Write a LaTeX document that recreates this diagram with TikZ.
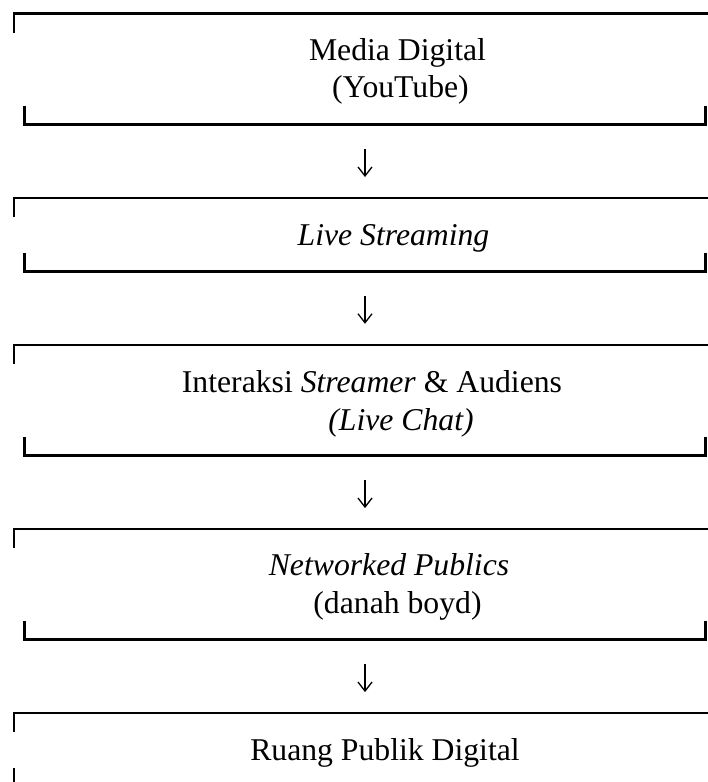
\documentclass[tikz,border=0pt]{standalone}
\usepackage{fontspec}
\setmainfont{Liberation Serif}
\usetikzlibrary{arrows.meta}
\begin{document}
\begin{tikzpicture}[x=1pt,y=-1pt,
  boxarea/.style={inner sep=0pt, minimum width=691pt, draw=none},
  rule/.style={line width=2.6pt, line cap=butt, line join=miter},
  txt/.style={anchor=base, inner sep=0pt, font=\fontsize{31.7}{37}\selectfont},
  flow/.style={line width=1.3pt, shorten <=24pt, shorten >=21pt,
    -{Straight Barb[length=9pt,width=14pt,line width=1.3pt]}}]
\useasboundingbox (0,0) rectangle (708,782);

% box areas
\node[boxarea, minimum height=110.6pt] (b1) at (359.5,69) {};
\node[boxarea, minimum height=73.1pt] (b2) at (359.5,234.75) {};
\node[boxarea, minimum height=110.3pt] (b3) at (359.5,400.15) {};
\node[boxarea, minimum height=110.2pt] (b4) at (359.5,584.4) {};
\node[boxarea, minimum height=73.7pt] (b5) at (359.5,750.15) {};

% brackets
\foreach \b in {b1,b2,b3,b4}{
  \draw[rule] ([yshift=-19pt]\b.north west) -- (\b.north west) -- ([xshift=3pt]\b.north east);
  \draw[rule] ([xshift=10.7pt,yshift=19pt]\b.south west) -- ([xshift=10.7pt]\b.south west)
     -- (\b.south east) -- ([yshift=19pt]\b.south east);
}
\draw[rule] ([yshift=-19pt]b5.north west) -- (b5.north west) -- ([xshift=3pt]b5.north east);
\draw[rule] ([yshift=-54.7pt]b5.north west) -- ([yshift=-69pt]b5.north west);

% texts
\node[txt] (t1a) at (397.5,60) {Media Digital};
\node[txt] (t1b) at (400.5,97) {(YouTube)};
\node[txt] (t2) at (393.5,245) {\textit{Live Streaming}};
\node[txt] (t3a) at (372,392.5) {Interaksi \textit{Streamer} \& Audiens};
\node[txt] (t3b) at (401,430) {\textit{(Live Chat)}};
\node[txt] (t4a) at (389,575) {\textit{Networked Publics}};
\node[txt] (t4b) at (397.5,613) {(danah boyd)};
\node[txt] (t5) at (385,760) {Ruang Publik Digital};

% arrows
\draw[flow] ([xshift=5.5pt]b1.south) -- ([xshift=5.5pt]b2.north);
\draw[flow] ([xshift=5.5pt]b2.south) -- ([xshift=5.5pt]b3.north);
\draw[flow] ([xshift=5.5pt]b3.south) -- ([xshift=5.5pt]b4.north);
\draw[flow] ([xshift=5.5pt]b4.south) -- ([xshift=5.5pt]b5.north);
\end{tikzpicture}
\end{document}
